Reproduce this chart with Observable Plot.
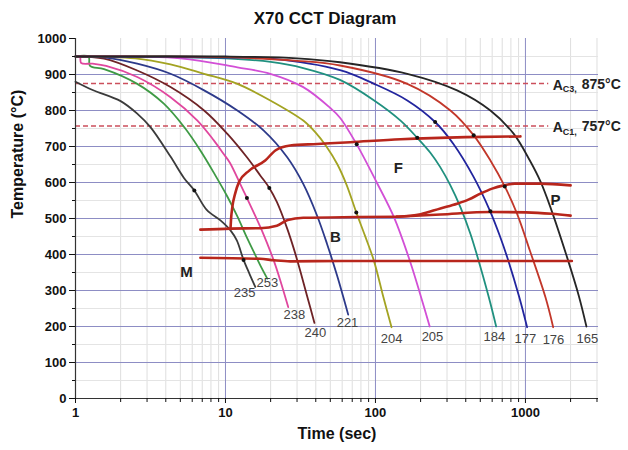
<!DOCTYPE html>
<html><head><meta charset="utf-8">
<script src="https://cdn.jsdelivr.net/npm/d3@7"></script>
<script src="https://cdn.jsdelivr.net/npm/@observablehq/plot@0.6"></script>
<style>
body{margin:0;background:#fff;font-family:"Liberation Sans",Arial,sans-serif;}
#wrap{position:relative;width:628px;height:450px;}
#title{position:absolute;top:9px;left:0;width:650px;text-align:center;font-size:17px;font-weight:bold;color:#111;}
#chart{position:absolute;top:30px;left:0;}
</style></head><body>
<div id="wrap"><div id="title">X70 CCT Diagram</div><div id="chart"></div></div>
<script>
// Cooling curves: [time (s), temperature (°C)]
const c235 = [[1,880],[1.3,857],[2.0,826],[2.6,790],[3.16,754],[4.3,672],[5.3,612],[6.2,578],[7.5,524],[9.3,494],[10.8,467],[11.9,439],[13.2,385],[14.5,345],[15.8,310]];
const c253 = [[1,950],[1.22,950],[1.25,924],[1.55,915],[2.58,874],[3.88,819],[5.3,754],[6.8,689],[8.5,622],[10.2,564],[12.0,506],[13.9,447],[15.5,406],[17.1,369],[19.0,333]];
const c238 = [[1,950],[1.07,950],[1.09,932],[1.3,930],[1.6,924],[2.58,893],[4.3,837],[6.5,772],[8.36,717],[9.7,680],[10.7,655],[12.6,594],[13.9,557],[17.1,476],[19.0,430],[21,383],[23.2,328],[26.2,254]];
const c240 = [[1,950],[1.55,944],[2.58,911],[4.3,865],[7.2,800],[10.3,735],[13.9,670],[17.1,619],[19.6,585],[22,546],[25.8,472],[28.5,417],[31.6,353],[35,285],[39.2,210]];
const c221 = [[1,950],[1.6,947],[2.58,930],[4.3,902],[7.2,856],[12.0,800],[18,744],[25.8,670],[33,596],[40.7,509],[47.5,430],[55.6,340],[65.8,233]];
const c204 = [[1,950],[2.5,945],[4.3,928],[7.2,902],[12,874],[19.9,828],[33,772],[39.8,739],[47.1,700],[55.8,650],[64.1,594],[74.5,517],[85,453],[97.6,383],[113,281],[128,198]];
const c205 = [[1,950],[5,945],[12,920],[19.9,902],[33,865],[50,807],[58,780],[75,706],[102,600],[133,503],[171,378],[199,289],[230,200]];
const c184 = [[1,950],[5,948],[10,945],[20,935],[33,918],[58,885],[98,828],[147,772],[190,724],[233,682],[271,642],[316,592],[369,531],[430,457],[476,397],[570,281],[638,200]];
const c177 = [[1,950],[10,947],[20,944],[58,912],[98,874],[163,828],[250,768],[331,707],[452,615],[582,520],[680,448],[755,393],[906,284],[1026,198]];
const c176 = [[1,950],[10,948],[30,938],[58,925],[163,874],[316,800],[452,731],[584,661],[728,589],[880,513],[1070,411],[1360,281],[1531,198]];
const c165 = [[1,950],[10,950],[30,945],[58,934],[163,902],[350,856],[584,800],[836,735],[1070,661],[1259,603],[1468,531],[1896,392],[2270,285],[2551,200]];

const curveLabels = ["235","253","238","240","221","204","205","184","177","176","165"];
const curveColors = ["#3b3b3b","#3f9a45","#e0479e","#6e2326","#2d3a8a","#a3a322","#d24fd6","#20907f","#22259e","#c2372a","#262626"];
const labelTime = [13.4,19.05,28.8,39.8,65.1,128,240,621,1000,1538,2590];
const labelTemp = [294,322,233,183,211,167,172,172,167,164,167];

// Transformation lines
const ferriteLine = [[10.8,471],[10.9,500],[11.1,531],[11.6,569],[12.3,601],[14.4,633],[18.4,661],[21.5,689],[27,703],[41,707],[68,712],[147,720],[400,726],[926,728]];
const bainiteLine = [[6.8,469],[10.8,472],[17,473],[22,480],[26,496],[33,502],[75,504],[139,505]];
const pearliteUpper = [[139,505],[200,512],[271,528],[350,541],[420,553],[501,569],[600,583],[718,592],[850,597],[1250,597],[2000,592]];
const pearliteLower = [[139,505],[271,511],[584,518],[1010,517],[1500,513],[2000,508]];
const martensiteLine = [[6.8,391],[17,388],[21,384],[27,381],[60,382],[2040,382]];

// Critical temperatures
const acTemps = [875, 757];
const acNames = ["C3,", "C1,"];
const acValues = ["875°C", "757°C"];
const acEnd = 1430;

// Black dots on curves
const dotTime = [6.2,13.2,13.9,19.6,74.5,75,190,250,584,452,728];
const dotTemp = [578,385,557,585,517,706,724,768,520,731,589];

// Phase region labels
const regionNames = ["F","P","B","M"];
const regionTime = [142,1585,54.1,5.5];
const regionTemp = [639,550,447,350];

// Ticks
const xMajor = [1,10,100,1000];
const xMinor = [2,3,4,5,6,7,8,9,20,30,40,50,60,70,80,90,200,300,400,500,600,700,800,900,2000,3000];
const yMajor = d3.range(0,1001,100);
const yMinor = d3.range(50,1000,100);

const curves = [c235,c253,c238,c240,c221,c204,c205,c184,c177,c176,c165];
const redColor = "#b8261c";

const marks = [
  Plot.ruleX(xMinor, {stroke:"#dedede"}),
  Plot.ruleY(yMinor, {stroke:"#e4e4e4"}),
  Plot.ruleX([10,100,1000], {stroke:"#8d8dc4", strokeWidth:1}),
  Plot.ruleY(yMajor.filter(v => v > 0 && v < 1000), {stroke:"#8d8dc4", strokeWidth:1}),
  Plot.ruleY(acTemps, {x1:1, x2:acEnd, stroke:"#cc4f5c", strokeWidth:1.3, strokeDasharray:"5,3"}),
];
curves.forEach((c, i) => {
  marks.push(Plot.line(c, {x:d => d[0], y:d => d[1], stroke:curveColors[i], strokeWidth:1.8, curve:"catmull-rom"}));
});
[ferriteLine, bainiteLine, pearliteUpper, pearliteLower, martensiteLine].forEach(l => {
  marks.push(Plot.line(l, {x:d => d[0], y:d => d[1], stroke:redColor, strokeWidth:2.6, curve:"monotone-x"}));
});
marks.push(
  Plot.dot(dotTime.map((t,i) => ({t, v:dotTemp[i]})), {x:"t", y:"v", r:2, fill:"#111"}),
  Plot.text(curveLabels.map((s,i) => ({s, t:labelTime[i], v:labelTemp[i]})), {x:"t", y:"v", text:"s", fill:"#444", fontSize:13}),
  Plot.text(regionNames.map((s,i) => ({s, t:regionTime[i], v:regionTemp[i]})), {x:"t", y:"v", text:"s", fill:"#222", fontSize:15, fontWeight:"bold"}),
  Plot.text(acTemps, {x:acEnd, y:d => d, text:() => "A", textAnchor:"start", dx:4, dy:2, fontSize:14, fontWeight:"bold", fill:"#222"}),
  Plot.text(acTemps, {x:acEnd, y:d => d, text:(d,i) => acNames[i], textAnchor:"start", dx:14, dy:6, fontSize:9, fontWeight:"bold", fill:"#222"}),
  Plot.text(acTemps, {x:acEnd, y:d => d, text:(d,i) => acValues[i], textAnchor:"start", dx:33, dy:1, fontSize:14, fontWeight:"bold", fill:"#222"}),
  Plot.ruleX([1], {stroke:"#333", strokeWidth:1.2}),
  Plot.ruleY([0], {stroke:"#333", strokeWidth:1.2}),
  Plot.axisX({ticks:xMajor, tickSize:5, tickPadding:4, tickFormat:d => String(d), fontSize:13, fontWeight:"bold", label:null}),
  Plot.axisX({ticks:xMinor, tickSize:4, tickFormat:() => "", label:null}),
  Plot.axisY({ticks:yMajor, tickSize:6, tickPadding:3, tickFormat:d => String(d), fontSize:13, fontWeight:"bold", label:null}),
  Plot.axisY({ticks:yMinor, tickSize:3, tickFormat:() => "", label:null}),
  Plot.text(["Temperature (°C)"], {frameAnchor:"left", rotate:-90, dx:-58, fontSize:16, fontWeight:"bold", fill:"#111"}),
  Plot.text(["Time (sec)"], {frameAnchor:"bottom", dy:40, fontSize:16, fontWeight:"bold", fill:"#111"})
);

const chart = Plot.plot({
  width:628, height:420,
  marginLeft:75, marginRight:30, marginTop:8, marginBottom:52,
  style:{fontFamily:"'Liberation Sans', Arial, sans-serif", background:"#fff", color:"#111"},
  x:{type:"log", domain:[1,3070]},
  y:{domain:[0,1000]},
  marks
});
document.getElementById("chart").appendChild(chart);
</script>
</body></html>
